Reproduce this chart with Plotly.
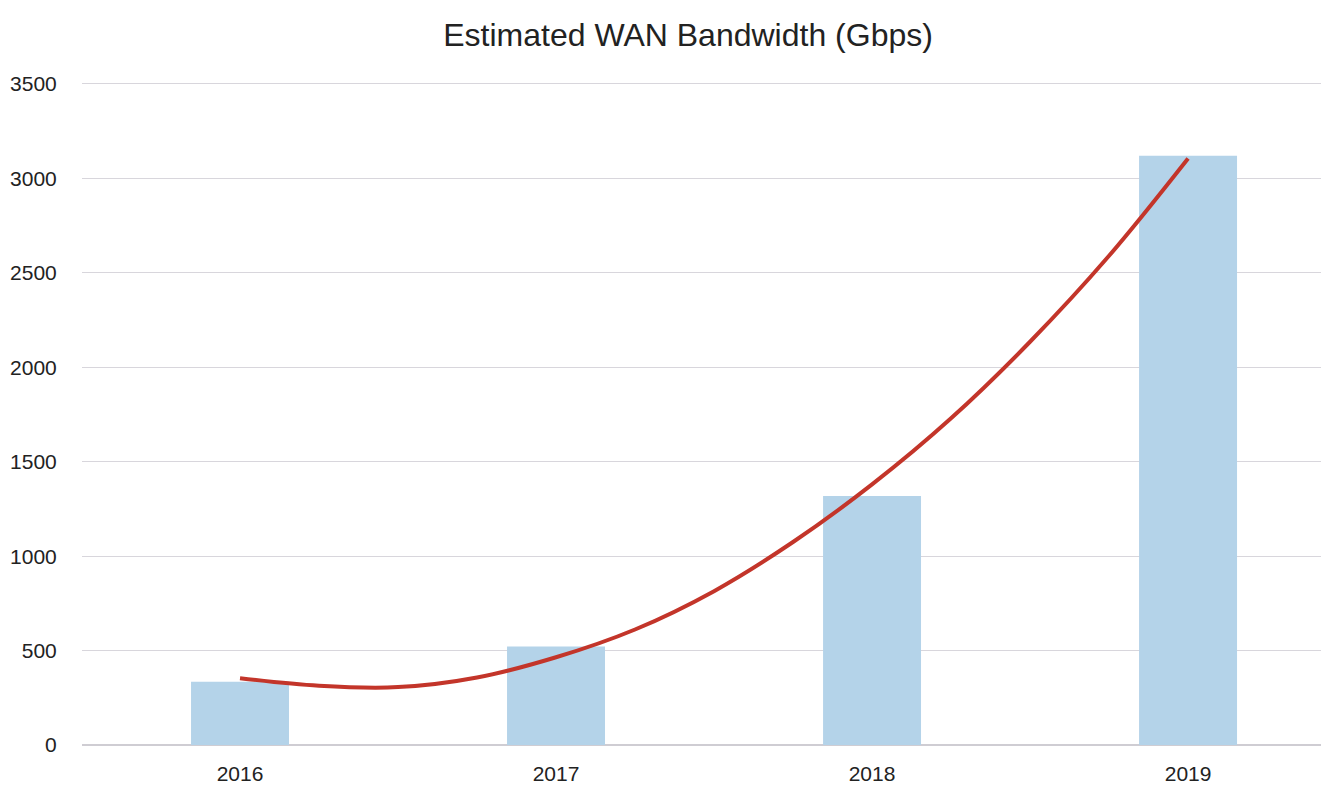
import plotly.graph_objects as go

# Data
years = [2016, 2017, 2018, 2019]
bandwidth_gbps = [335, 522, 1318, 3120]
tick_labels = ["2016", "2017", "2018", "2019"]

# Trend line
trend_x = [2016.0, 2016.25, 2016.5, 2016.75, 2017.0, 2017.25, 2017.5, 2017.75,
           2018.0, 2018.25, 2018.5, 2018.75, 2019.0]
trend_y = [354, 314, 307, 358, 465, 612, 815, 1075, 1380, 1730, 2135, 2590, 3105]

title_text = "Estimated WAN Bandwidth (Gbps)"
y_ticks = [0, 500, 1000, 1500, 2000, 2500, 3000, 3500]

FONT = "Liberation Sans Narrow, Arial Narrow, Liberation Sans, Arial, sans-serif"

fig = go.Figure()
fig.add_trace(go.Bar(
    x=years, y=bandwidth_gbps, width=0.31,
    marker=dict(color="#b4d3e9", line=dict(width=0)),
    showlegend=False,
))
fig.add_trace(go.Scatter(
    x=trend_x, y=trend_y, mode="lines",
    line=dict(color="#c3352a", width=4, shape="spline", smoothing=1.0),
    showlegend=False,
))

# page body has an 8px margin, so the figure is sized to fit the 1329x787 window
fig.update_layout(
    width=1321, height=779,
    paper_bgcolor="white", plot_bgcolor="white",
    margin=dict(l=74, r=0, t=74, b=40, autoexpand=False),
    font=dict(family=FONT, color="#222222", size=21),
    title=dict(text=title_text, x=0.5148, xanchor="center", y=0.965, yanchor="middle",
               font=dict(family=FONT, size=32, color="#222222")),
    xaxis=dict(
        range=[2015.5, 2019.446], automargin=False,
        tickmode="array", tickvals=years, ticktext=tick_labels,
        showgrid=False, zeroline=False, showline=False,
        ticks="outside", ticklen=8, tickcolor="rgba(0,0,0,0)",
        tickfont=dict(size=21, family=FONT, color="#222222"),
    ),
    yaxis=dict(
        range=[-10, 3510], automargin=False,
        tickmode="array", tickvals=y_ticks,
        showgrid=True, gridcolor="#d8d6dc", gridwidth=1,
        zeroline=True, zerolinecolor="#cfcdd3", zerolinewidth=1.5,
        showline=False,
        ticks="outside", ticklen=20, tickcolor="rgba(0,0,0,0)",
        tickfont=dict(size=21, family=FONT, color="#222222"),
    ),
    bargap=0.69,
)

fig.write_html("out.html")
